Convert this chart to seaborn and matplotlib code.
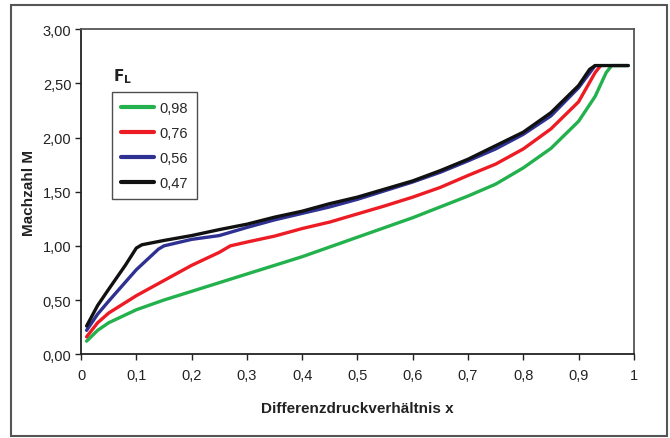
import matplotlib
matplotlib.use("Agg")
import matplotlib.pyplot as plt
import numpy as np
import pandas as pd
import seaborn as sns
from matplotlib.patches import Rectangle
from matplotlib.ticker import FuncFormatter, MultipleLocator

# Machzahl M over Differenzdruckverhältnis x, one curve per F_L value
x_098 = [0.01, 0.03, 0.05, 0.10, 0.15, 0.20, 0.25, 0.30, 0.35, 0.40, 0.45, 0.50, 0.55,
         0.60, 0.65, 0.70, 0.75, 0.80, 0.85, 0.90, 0.93, 0.95, 0.96, 0.99]
m_098 = [0.12, 0.22, 0.29, 0.41, 0.50, 0.58, 0.66, 0.74, 0.82, 0.90, 0.99, 1.08, 1.17,
         1.26, 1.36, 1.46, 1.57, 1.72, 1.90, 2.15, 2.38, 2.60, 2.665, 2.665]

x_076 = [0.01, 0.03, 0.05, 0.10, 0.15, 0.20, 0.25, 0.27, 0.30, 0.35, 0.40, 0.45, 0.50,
         0.55, 0.60, 0.65, 0.70, 0.75, 0.80, 0.85, 0.90, 0.93, 0.94]
m_076 = [0.16, 0.29, 0.38, 0.54, 0.68, 0.82, 0.94, 1.00, 1.035, 1.09, 1.16, 1.22, 1.295,
         1.37, 1.45, 1.54, 1.65, 1.755, 1.895, 2.08, 2.33, 2.60, 2.665]

x_056 = [0.01, 0.03, 0.05, 0.10, 0.14, 0.15, 0.20, 0.25, 0.30, 0.35, 0.40, 0.45, 0.50,
         0.55, 0.60, 0.65, 0.70, 0.75, 0.80, 0.85, 0.90, 0.93]
m_056 = [0.22, 0.37, 0.49, 0.78, 0.97, 1.00, 1.06, 1.095, 1.17, 1.24, 1.30, 1.36, 1.43,
         1.51, 1.59, 1.68, 1.785, 1.895, 2.03, 2.20, 2.46, 2.665]

x_047 = [0.01, 0.03, 0.05, 0.08, 0.10, 0.11, 0.15, 0.20, 0.25, 0.30, 0.35, 0.40, 0.45,
         0.50, 0.55, 0.60, 0.65, 0.70, 0.75, 0.80, 0.85, 0.90, 0.92, 0.93, 0.99]
m_047 = [0.26, 0.45, 0.60, 0.82, 0.98, 1.01, 1.05, 1.095, 1.15, 1.20, 1.265, 1.32, 1.39,
         1.45, 1.525, 1.60, 1.695, 1.80, 1.925, 2.05, 2.23, 2.48, 2.63, 2.665, 2.665]

labels = ["0,98", "0,76", "0,56", "0,47"]
colors = ["#22b14c", "#ed1c24", "#2e3192", "#111111"]

frames = []
for lab, xs, ms in zip(labels, [x_098, x_076, x_056, x_047], [m_098, m_076, m_056, m_047]):
    frames.append(pd.DataFrame({"x": xs, "M": ms, "FL": lab}))
df = pd.concat(frames, ignore_index=True)

sns.set_theme(style="white")
plt.rcParams["font.family"] = ["Liberation Sans", "DejaVu Sans"]

fig = plt.figure(figsize=(6.7, 4.39), dpi=100)
ax = fig.add_axes([0.121, 0.191, 0.825, 0.740])

sns.lineplot(data=df, x="x", y="M", hue="FL", hue_order=labels,
             palette=dict(zip(labels, colors)), linewidth=2.4, sort=False,
             estimator=None, ax=ax)

ax.set_xlim(0, 1)
ax.set_ylim(0, 3)
ax.xaxis.set_major_locator(MultipleLocator(0.1))
ax.yaxis.set_major_locator(MultipleLocator(0.5))
ax.xaxis.set_major_formatter(FuncFormatter(
    lambda v, p: "0" if abs(v) < 1e-9 else ("1" if abs(v - 1) < 1e-9 else f"{v:.1f}".replace(".", ","))))
ax.yaxis.set_major_formatter(FuncFormatter(lambda v, p: f"{v:.2f}".replace(".", ",")))
ax.tick_params(axis="both", direction="out", length=4, width=1, color="#222222",
               labelsize=10.5, labelcolor="#222222", pad=6)
ax.tick_params(axis="x", bottom=True)
ax.tick_params(axis="y", left=True, pad=3)

for side in ["left", "bottom"]:
    ax.spines[side].set_color("#222222")
    ax.spines[side].set_linewidth(1.3)
for side in ["top", "right"]:
    ax.spines[side].set_color("#555555")
    ax.spines[side].set_linewidth(1.3)

ax.set_xlabel("Differenzdruckverhältnis x", fontsize=11, fontweight="bold", color="#222222", labelpad=14)
ax.set_ylabel("Machzahl M", fontsize=11, fontweight="bold", color="#222222", labelpad=5)

leg = ax.legend(loc="upper left", bbox_to_anchor=(0.056, 0.806), frameon=True, fancybox=False,
                fontsize=10.5, handlelength=2.3, handletextpad=0.35, labelspacing=0.75,
                borderpad=0.6, borderaxespad=0, title=None)
leg.get_frame().set_edgecolor("#222222")
leg.get_frame().set_linewidth(1.0)
for line in leg.get_lines():
    line.set_linewidth(3)

ax.text(0.058, 0.857, r"$\mathbf{F}_{\mathbf{L}}$", transform=ax.transAxes, fontsize=11,
        color="#222222", ha="left", va="center")

# outer frame around the whole chart
fig.patches.append(Rectangle((11 / 670, 2 / 439), 656 / 670, 431 / 439, transform=fig.transFigure,
                             fill=False, edgecolor="#555555", linewidth=1.5))

fig.savefig("out.png", dpi=100)
plt.close(fig)
